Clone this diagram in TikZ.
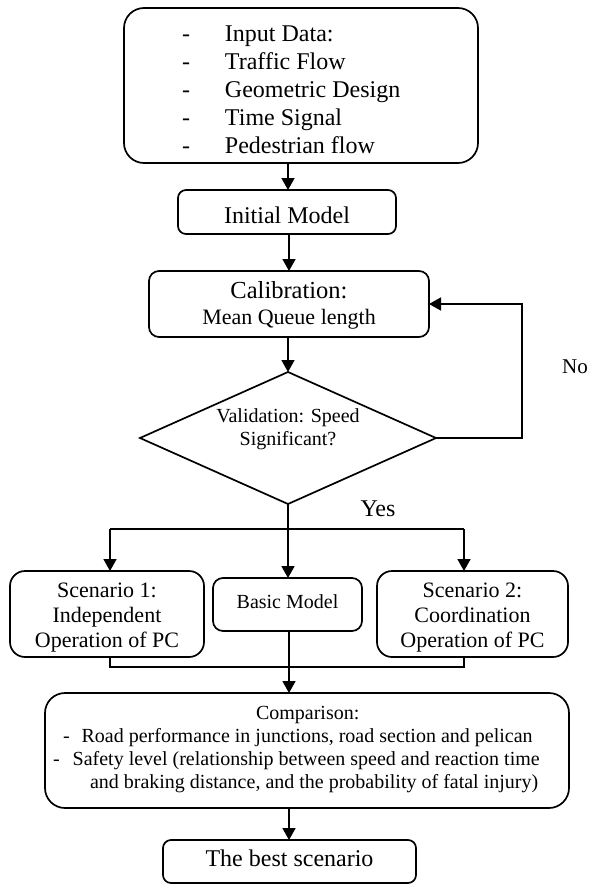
\documentclass[tikz,border=0pt]{standalone}
\usepackage{fontspec}
\setmainfont{Liberation Serif}
\usetikzlibrary{arrows.meta,shapes.geometric}
\tikzset{
  box/.style={draw, line width=1.7pt, inner sep=0pt, outer sep=0pt},
  conn/.style={line width=1.7pt},
  arr/.style={line width=1.7pt, -{Triangle[width=13pt,length=12pt]}},
  fbig/.style={font=\fontsize{24}{28}\selectfont},
  fmid/.style={font=\fontsize{22}{25}\selectfont},
  fsmall/.style={font=\fontsize{20}{23}\selectfont},
}
\begin{document}
\begin{tikzpicture}[x=1pt,y=-1pt]
\useasboundingbox (0,0) rectangle (590,884);

% boxes
\node[box, fbig, rounded corners=20pt, minimum width=354pt, minimum height=155pt,
      text height=20pt, text depth=109pt] (input) at (301,85.5)
  {\makebox[238pt][l]{\begin{tabular}[t]{@{}l@{}}
   \makebox[43pt][l]{-}Input Data:\\
   \makebox[43pt][l]{-}Traffic Flow\\
   \makebox[43pt][l]{-}Geometric Design\\
   \makebox[43pt][l]{-}Time Signal\\
   \makebox[43pt][l]{-}Pedestrian flow
  \end{tabular}}};

\node[box, fbig, rounded corners=8pt, minimum width=218pt, minimum height=44pt,
      text height=22pt, text depth=0pt] (init) at (287,212) {Initial Model};

\node[box, font=\fontsize{22}{26}\selectfont, rounded corners=10pt, minimum width=280pt, minimum height=66pt,
      text height=19pt, text depth=31pt] (calib) at (289,304)
  {\begin{tabular}[t]{@{}c@{}}{\fontsize{24.5}{26}\selectfont Calibration:}\\ Mean Queue length\end{tabular}};

\node[box, fsmall, diamond, aspect=2.24, minimum width=296pt, minimum height=132pt,
      text height=10pt, text depth=42pt] (val) at (288,438)
  {\begin{tabular}[t]{@{}c@{}}Validation: Speed\\ Significant?\end{tabular}};

\node[box, fmid, rounded corners=15pt, minimum width=194pt, minimum height=86pt,
      text height=18pt, text depth=52pt] (s1) at (107,614)
  {\begin{tabular}[t]{@{}c@{}}Scenario 1:\\ Independent\\ Operation of PC\end{tabular}};

\node[box, fsmall, rounded corners=10pt, minimum width=149pt, minimum height=53pt,
      text height=14pt, text depth=7pt] (basic) at (287.5,604.5) {Basic Model};

\node[box, fmid, rounded corners=15pt, minimum width=191pt, minimum height=86pt,
      text height=18pt, text depth=52pt] (s2) at (472.5,614)
  {\begin{tabular}[t]{@{}c@{}}Scenario 2:\\ Coordination\\ Operation of PC\end{tabular}};

\node[box, fsmall, rounded corners=20pt, minimum width=524pt, minimum height=115pt,
      text height=17pt, text depth=80pt] (comp) at (307,750.5)
  {\makebox[508pt][l]{\begin{tabular}[t]{@{}l@{}}
   \hspace*{203pt}Comparison:\\
   \hspace*{10pt}-\hspace{12pt}Road performance in junctions, road section and pelican\\
   -\hspace{13pt}Safety level (relationship between speed and reaction time\\
   \hspace*{37pt}and braking distance, and the probability of fatal injury)
  \end{tabular}}};

\node[box, fbig, rounded corners=8pt, minimum width=253pt, minimum height=43pt,
      text height=17pt, text depth=8pt] (best) at (289.5,861.5) {The best scenario};

% labels
\node[fbig, inner sep=0pt] (yes) at (378,509) {Yes};
\node[font=\fontsize{21}{24}\selectfont, inner sep=0pt] (no) at (575,367) {No};

% helper coordinates
\coordinate (loopR) at (522,304);
\coordinate (br) at (288,529);
\coordinate (brL) at (110,529);
\coordinate (brR) at (464,529);
\coordinate (joinL) at (110,667);
\coordinate (joinR) at (464,667);

% connectors
\draw[arr] (input.south -| 288,0) -- (init.north -| 288,0);
\draw[arr] (init.south -| 289,0) -- (calib.north -| 289,0);
\draw[arr] (calib.south -| 288,0) -- (val.north);
\draw[arr] (val.east) -| (loopR) -- (calib.east);
\draw[conn] (val.south) -- (br);
\draw[conn] (brL) -- (brR);
\draw[arr] (brL) -- (brL |- s1.north);
\draw[arr] (brR) -- (brR |- s2.north);
\draw[arr] (br) -- (br |- basic.north);
\draw[conn] (joinL |- s1.south) -- (joinL) -- (joinR) -- (joinR |- s2.south);
\draw[arr] (basic.south -| 289,0) -- (comp.north -| 289,0);
\draw[arr] (comp.south -| 289,0) -- (best.north -| 289,0);
\end{tikzpicture}
\end{document}
